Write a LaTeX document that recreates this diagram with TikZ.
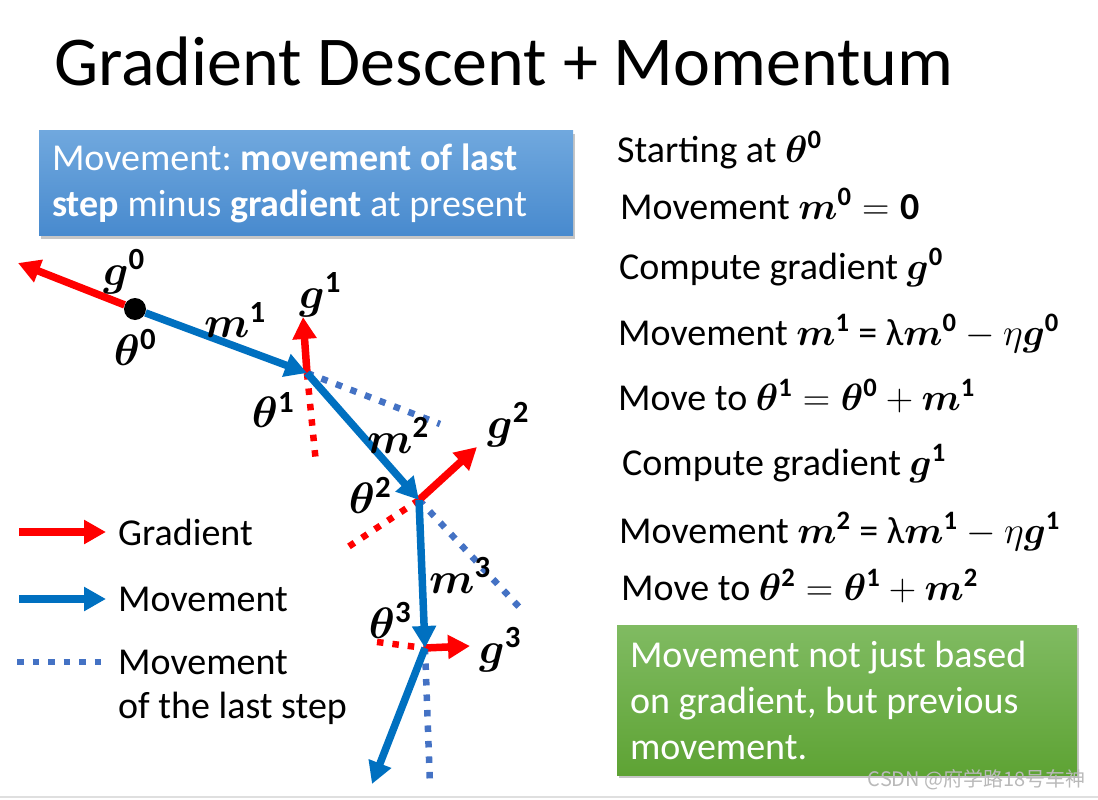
\RequirePackage{fix-cm}
\documentclass[tikz,border=0pt]{standalone}
\usepackage{amsmath}
\usepackage{bm}
\usepackage{fontspec}
\setmainfont{Carlito}
\newfontfamily\cjk{Noto Sans CJK SC}
\usepackage{xcolor}
\usetikzlibrary{arrows.meta,positioning,shadows}
\frenchspacing

\definecolor{gradred}{RGB}{255,0,0}
\definecolor{moveblue}{RGB}{0,112,192}
\definecolor{lastblue}{RGB}{68,114,196}
\definecolor{notetop}{RGB}{112,168,222}
\definecolor{notebot}{RGB}{72,138,206}
\definecolor{sumtop}{RGB}{128,187,98}
\definecolor{sumbot}{RGB}{94,163,52}

\begin{document}
\begin{tikzpicture}[
  x=1pt, y=-1pt,
  >={Triangle[length=22pt,width=23pt]},
  grad/.style={->, draw=gradred, line width=7.5pt},
  move/.style={->, draw=moveblue, line width=7.5pt},
  lastmove/.style={draw=lastblue, line width=6.5pt, dash pattern=on 6.5pt off 9pt},
  lastgrad/.style={draw=gradred, line width=6.5pt, dash pattern=on 6.5pt off 9pt},
  lbl/.style={font=\fontsize{44}{52}\selectfont, inner sep=0pt},
  txt/.style={anchor=base west, font=\fontsize{38}{46}\selectfont, inner sep=0pt},
  lgtxt/.style={anchor=west, font=\fontsize{38}{46}\selectfont, inner sep=0pt},
  panel/.style={align=flush left, text=white, inner xsep=13pt, inner ysep=0pt,
    font=\fontsize{38}{46}\selectfont,
    drop shadow={shadow xshift=2pt, shadow yshift=-3pt, opacity=0.45}}
]
\useasboundingbox (0,0) rectangle (1098,800);

\node[anchor=base west, font=\fontsize{70}{82}\selectfont, inner sep=0pt] (title) at (54,85) {Gradient Descent + Momentum};

\node[panel, top color=notetop, bottom color=notebot, minimum width=534pt, minimum height=105pt, text width=508pt] (note) at (306,183) {Movement: \textbf{movement of last}\\\textbf{step} minus \textbf{gradient} at present};

\node[panel, top color=sumtop, bottom color=sumbot, minimum width=460pt, minimum height=150pt, text width=434pt] (summary) at (847,700) {Movement not just based\\on gradient, but previous\\movement.};

\node[txt] (s1) at (617,162) {Starting at $\bm{\theta}^{\mathbf{0}}$};
\node[txt] (s2) at (620,219) {Movement $\bm{m}^{\mathbf{0}}=\mathbf{0}$};
\node[txt] (s3) at (619,279) {Compute gradient $\bm{g}^{\mathbf{0}}$};
\node[txt] (s4) at (618,345) {Movement $\bm{m}^{\mathbf{1}}$ = λ$\bm{m}^{\mathbf{0}}-\eta\bm{g}^{\mathbf{0}}$};
\node[txt] (s5) at (618,410) {Move to $\bm{\theta}^{\mathbf{1}}=\bm{\theta}^{\mathbf{0}}+\bm{m}^{\mathbf{1}}$};
\node[txt] (s6) at (622,475) {Compute gradient $\bm{g}^{\mathbf{1}}$};
\node[txt] (s7) at (619,543) {Movement $\bm{m}^{\mathbf{2}}$ = λ$\bm{m}^{\mathbf{1}}-\eta\bm{g}^{\mathbf{1}}$};
\node[txt] (s8) at (621,600) {Move to $\bm{\theta}^{\mathbf{2}}=\bm{\theta}^{\mathbf{1}}+\bm{m}^{\mathbf{2}}$};

\node[circle, fill=black, minimum size=22pt, inner sep=0pt] (t0) at (135,309) {};
\coordinate (t1) at (307,373);
\coordinate (t2) at (419,500);
\coordinate (t3) at (425,648);
\coordinate (g0) at (18,263);
\coordinate (g1) at (303,317);
\coordinate (g2) at (477,447);
\coordinate (g3) at (470,646);
\coordinate (h1) at (316,463);
\coordinate (h2) at (342,551);
\coordinate (h3) at (377,642);
\coordinate (p1) at (440,424);
\coordinate (p2) at (520,608);
\coordinate (p3) at (430,785);
\coordinate (m4) at (372,784);

\draw[lastgrad] (t1) -- (h1);
\draw[lastgrad] (t2) -- (h2);
\draw[lastgrad] (h3) -- (t3);
\draw[lastmove] (t1) -- (p1);
\draw[lastmove] (t2) -- (p2);
\draw[lastmove] (t3) -- (p3);
\draw[grad] (t0) -- (g0);
\draw[grad] (t1) -- (g1);
\draw[grad] (t2) -- (g2);
\draw[grad] (t3) -- (g3);
\draw[move] (t0) -- (t1);
\draw[move] (t1) -- (t2);
\draw[move] (t2) -- (t3);
\draw[move] (t3) -- (m4);

\node[lbl] (lg0) at (124,272) {$\bm{g}^{\mathbf{0}}$};
\node[lbl] (lt0) at (135,347) {$\bm{\theta}^{\mathbf{0}}$};
\node[lbl] (lm1) at (235,320) {$\bm{m}^{\mathbf{1}}$};
\node[lbl] (lg1) at (320,295) {$\bm{g}^{\mathbf{1}}$};
\node[lbl] (lt1) at (273,410) {$\bm{\theta}^{\mathbf{1}}$};
\node[lbl] (lm2) at (398,435) {$\bm{m}^{\mathbf{2}}$};
\node[lbl] (lg2) at (508,425) {$\bm{g}^{\mathbf{2}}$};
\node[lbl] (lt2) at (370,495) {$\bm{\theta}^{\mathbf{2}}$};
\node[lbl] (lm3) at (460,575) {$\bm{m}^{\mathbf{3}}$};
\node[lbl] (lt3) at (390,620) {$\bm{\theta}^{\mathbf{3}}$};
\node[lbl] (lg3) at (500,650) {$\bm{g}^{\mathbf{3}}$};

\coordinate (ka) at (19,532);
\coordinate (kb) at (106,532);
\coordinate (kc) at (19,599);
\coordinate (kd) at (106,599);
\coordinate (ke) at (17,662);
\coordinate (kf) at (104,662);
\draw[grad] (ka) -- (kb);
\draw[move] (kc) -- (kd);
\draw[lastmove] (ke) -- (kf);
\node[lgtxt, right=12pt of kb] (kgrad) {Gradient};
\node[lgtxt, right=12pt of kd] (kmove) {Movement};
\node[lgtxt, right=14pt of kf] (klast) {Movement};
\node[txt] (klast2) at ([yshift=-44pt]klast.base west) {of the last step};

\node[anchor=east, font=\cjk\fontsize{20}{24}\selectfont, text=gray!55, inner sep=0pt] (mark) at (1086,780) {CSDN @府学路18号车神};
\draw[gray!25, line width=1.5pt] (0,797) -- (1098,797);
\end{tikzpicture}
\end{document}
